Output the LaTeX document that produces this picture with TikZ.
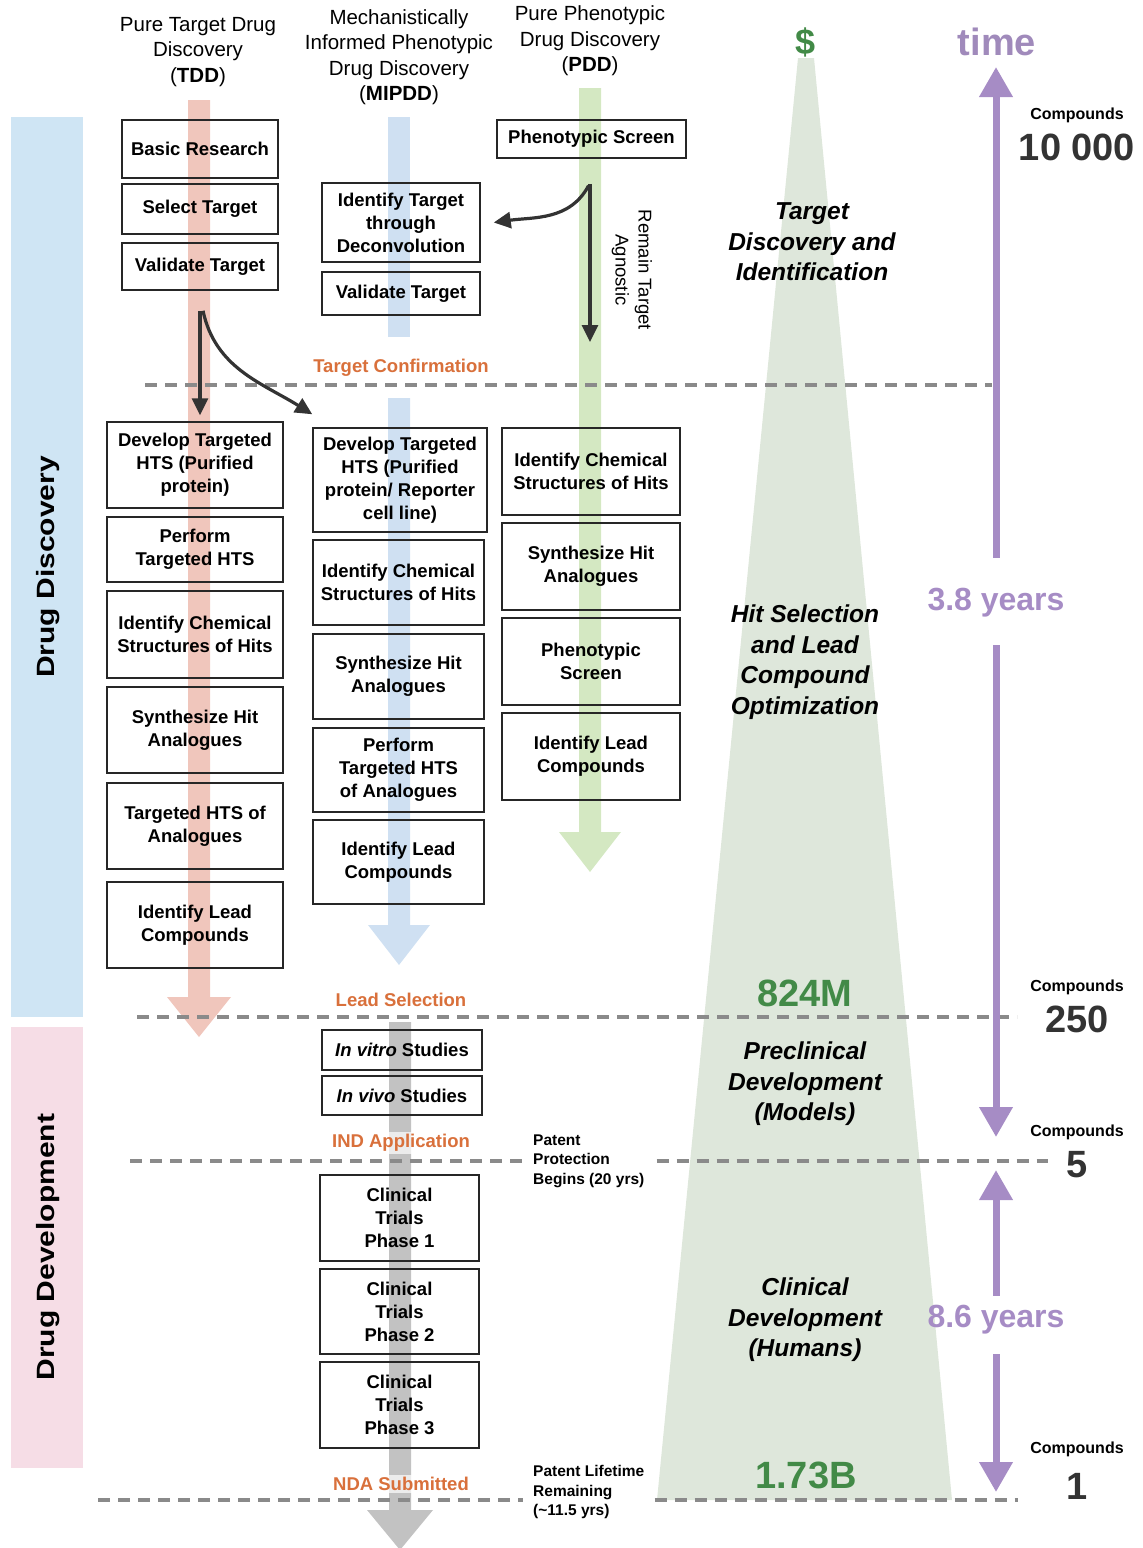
\documentclass[tikz,border=0pt]{standalone}
\usepackage{fontspec}
\setmainfont{Liberation Sans}
\usetikzlibrary{arrows.meta}

\definecolor{tddred}{HTML}{F0C6BC}
\definecolor{mipblue}{HTML}{CFE0F2}
\definecolor{pddgreen}{HTML}{D4E8C2}
\definecolor{devgray}{HTML}{C2C2C2}
\definecolor{barblue}{HTML}{CFE5F4}
\definecolor{barpink}{HTML}{F6DDE6}
\definecolor{conegreen}{HTML}{DEE7DB}
\definecolor{moneygreen}{HTML}{428A47}
\definecolor{timepurple}{HTML}{A68CC5}
\definecolor{stageorange}{HTML}{D9703B}
\definecolor{dashgray}{HTML}{8A8A8A}
\definecolor{inkdark}{HTML}{333333}

% colour, x, top, neck, half head width
\newcommand{\colshaft}[5]{\fill[#1] (#2-11,-#3) -- (#2+11,-#3) -- (#2+11,-#4) -- (#2+#5,-#4)
  -- (#2,-#4-40) -- (#2-#5,-#4) -- (#2-11,-#4) -- cycle;}

\begin{document}
\begin{tikzpicture}[x=1pt,y=1pt,
  stepbox/.style={draw=black!85, line width=1.5pt, align=center, inner sep=1pt,
    font=\fontsize{18.5}{23}\selectfont\bfseries},
  tddup/.style={stepbox, minimum width=156pt},
  tddlow/.style={stepbox, minimum width=176pt, minimum height=86pt},
  mipup/.style={stepbox, minimum width=158pt},
  miplow/.style={stepbox, minimum width=171pt, minimum height=85pt},
  mipdev/.style={stepbox, minimum width=160pt},
  pddlow/.style={stepbox, minimum width=178pt, minimum height=87pt},
  header/.style={align=center, font=\fontsize{20.5}{25.5}\selectfont},
  stagelabel/.style={text=stageorange, fill=white, fill opacity=.7, text opacity=1,
    inner sep=2pt, font=\fontsize{18.5}{22}\selectfont\bfseries},
  stageline/.style={draw=dashgray, line width=4.5pt, dash pattern=on 12pt off 8pt},
  patent/.style={align=left, anchor=west, inner sep=2pt, font=\fontsize{15.5}{19.5}\selectfont\bfseries},
  phase/.style={align=center, font=\fontsize{24.5}{30.5}\selectfont\bfseries\itshape},
  money/.style={text=moneygreen, font=\fontsize{38}{40}\selectfont\bfseries},
  years/.style={text=timepurple, font=\fontsize{32}{34}\selectfont\bfseries},
  cmpd/.style={text=black, font=\fontsize{16}{18}\selectfont\bfseries},
  cnum/.style={text=inkdark, font=\fontsize{38}{40}\selectfont\bfseries},
  sidebar/.style={rotate=90, font=\fontsize{25}{28}\selectfont\bfseries},
  flow/.style={draw=inkdark, line width=3.2pt, -{Triangle[length=17pt,width=16pt]}},
  timearrow/.style={draw=timepurple, line width=7pt, -{Triangle[length=30pt,width=32pt]}}]

\useasboundingbox (0,0) rectangle (1143,-1548);

% side bars
\fill[barblue] (11,-117) rectangle (83,-1017);
\fill[barpink] (11,-1027) rectangle (83,-1468);
\node[sidebar] (dd) at (48,-567) {\scalebox{1.2}[1]{Drug Discovery}};
\node[sidebar] (ddev) at (48,-1247) {\scalebox{1.2}[1]{Drug Development}};

% cost cone
\fill[conegreen] (798,-58) -- (814,-58) -- (952,-1500) -- (657,-1500) -- cycle;

% column shafts
\colshaft{tddred}{199}{100}{997}{32}
\fill[mipblue] (388,-117) rectangle (410,-337);
\colshaft{mipblue}{399}{398}{925}{31}
\colshaft{pddgreen}{590}{88}{832}{31}
\colshaft{devgray}{400}{1022}{1510}{33}

% stage boundaries
\foreach \y/\xa/\xb in {385/145/992, 1017/137/1017}
  {\draw[stageline] (\xa,-\y) -- (\xb,-\y);}
\node[patent] (pat1) at (531,-1161) {Patent\\Protection\\Begins (20 yrs)};
\node[patent] (pat2) at (531,-1492) {Patent Lifetime\\Remaining\\(\char`\~11.5 yrs)};
\draw[stageline, shorten >=8pt] (130,-1161) -- (pat1.west);
\draw[stageline, shorten <=10pt] (pat1.east) -- (1048,-1161);
\draw[stageline, shorten >=8pt] (98,-1500) -- (pat2.west |- 0,-1500);
\draw[stageline, shorten <=8pt] (pat2.east |- 0,-1500) -- (1018,-1500);

\node[stagelabel] (tc) at (401,-368) {Target Confirmation};
\node[stagelabel] (ls) at (401,-1000) {Lead Selection};
\node[stagelabel] (ind) at (401,-1143) {IND Application};
\node[stagelabel] (nda) at (401,-1484) {NDA Submitted};

% headers
\node[header] (hTDD) at (198,-52) {Pure Target Drug\\Discovery\\(\textbf{TDD})};
\node[header] (hMIP) at (399,-57) {Mechanistically\\Informed Phenotypic\\Drug Discovery\\(\textbf{MIPDD})};
\node[header] (hPDD) at (590,-41) {Pure Phenotypic\\Drug Discovery\\(\textbf{PDD})};

% TDD column
\node[tddup, minimum height=58pt] (br) at (200,-149) {Basic Research};
\node[tddup, minimum height=50pt] (st) at (200,-209) {Select Target};
\node[tddup, minimum height=47pt] (vt) at (200,-266.5) {Validate Target};
\node[tddlow] (dh) at (195,-465) {Develop Targeted\\HTS (Purified\\protein)};
\node[tddlow, minimum height=65pt] (ph) at (195,-549.5) {Perform\\Targeted HTS};
\node[tddlow, minimum height=87pt] (ic) at (195,-634.5) {Identify Chemical\\Structures of Hits};
\node[tddlow] (sh) at (195,-730) {Synthesize Hit\\Analogues};
\node[tddlow] (ta) at (195,-826) {Targeted HTS of\\Analogues};
\node[tddlow] (il) at (195,-925) {Identify Lead\\Compounds};

% MIPDD column
\node[mipup, minimum height=79pt] (itd) at (401,-222.5) {Identify Target\\through\\Deconvolution};
\node[mipup, minimum height=43pt] (mvt) at (401,-293.5) {Validate Target};
\node[miplow, minimum width=174pt, minimum height=104pt] (mdh) at (400,-480) {Develop Targeted\\HTS (Purified\\protein/ Reporter\\cell line)};
\node[miplow] (mic) at (398.5,-582.5) {Identify Chemical\\Structures of Hits};
\node[miplow] (msh) at (398.5,-676.5) {Synthesize Hit\\Analogues};
\node[miplow, minimum height=84pt] (mph) at (398.5,-770) {Perform\\Targeted HTS\\of Analogues};
\node[miplow, minimum height=84pt] (mil) at (398.5,-862) {Identify Lead\\Compounds};
\node[mipdev, minimum height=40pt] (ivt) at (402,-1050) {\textit{In vitro} Studies};
\node[mipdev, minimum height=39pt] (ivv) at (402,-1095.5) {\textit{In vivo} Studies};
\node[mipdev, minimum width=159pt, minimum height=86pt] (ct1) at (399.5,-1218) {Clinical\\Trials\\Phase 1};
\node[mipdev, minimum width=159pt, minimum height=85pt] (ct2) at (399.5,-1311.5) {Clinical\\Trials\\Phase 2};
\node[mipdev, minimum width=159pt, minimum height=86pt] (ct3) at (399.5,-1405) {Clinical\\Trials\\Phase 3};

% PDD column
\node[stepbox, minimum width=189pt, minimum height=38pt] (ps) at (591.5,-139) {Phenotypic Screen};
\node[pddlow] (pic) at (591,-471.5) {Identify Chemical\\Structures of Hits};
\node[pddlow] (psh) at (591,-566.5) {Synthesize Hit\\Analogues};
\node[pddlow] (pps) at (591,-661.5) {Phenotypic\\Screen};
\node[pddlow] (pil) at (591,-756.5) {Identify Lead\\Compounds};

% hand-over arrows
\coordinate (agn) at (590,-342);
\draw[flow, shorten >=6pt] ([yshift=-20pt]vt.south) -- (vt.south |- dh.north);
\draw[flow] ([xshift=3pt,yshift=-20pt]vt.south) to[out=-78,in=148] ([yshift=13pt]mdh.north west);
\draw[flow] ([xshift=-1.5pt,yshift=-25pt]ps.south) -- (agn);
\draw[flow] ([xshift=-3pt,yshift=-27pt]ps.south) to[out=-118,in=8] ([xshift=13pt]itd.east);
\node[rotate=-90, align=center, font=\fontsize{18.5}{23}\selectfont] (agtxt) at (632,-270) {Remain Target\\Agnostic};

% cost and phases
\node[money, font=\fontsize{36}{38}\selectfont\bfseries] (dollar) at (806,-42) {\$};
\node[money] (m824) at (805,-993) {824M};
\node[money] (b173) at (806,-1475) {1.73B};
\node[phase] (p1) at (812,-242) {Target\\Discovery and\\Identification};
\node[phase] (p2) at (805,-662) {Hit Selection\\and Lead\\Compound\\Optimization};
\node[phase] (p3) at (805,-1084) {Preclinical\\Development\\(Models)};
\node[phase] (p4) at (805,-1320) {Clinical\\Development\\(Humans)};

% time axis
\node[years, text=timepurple!85!gray, font=\fontsize{38}{40}\selectfont\bfseries] (time) at (997,-42) {time};
\node[years] (y38) at (996,-603) {3.8 years};
\node[years] (y86) at (996,-1320) {8.6 years};
\coordinate (t0) at (996,-67);
\coordinate (t1) at (996,-1137);
\coordinate (t2) at (996,-1170);
\coordinate (t3) at (996,-1492);
\draw[timearrow] ([yshift=27pt]y38.north) -- (t0);
\draw[timearrow] ([yshift=-24pt]y38.south) -- (t1);
\draw[timearrow] ([yshift=6pt]y86.north) -- (t2);
\draw[timearrow] ([yshift=-16pt]y86.south) -- (t3);

% compound counts
\foreach \yc/\yn/\num [count=\i] in {115/147/10 000, 987/1019/250, 1132/1165/5, 1449/1486/1}
  {\node[cmpd] (c\i) at (1077,-\yc) {Compounds};
   \node[cnum] (n\i) at (1077,-\yn) {\num};}

\end{tikzpicture}
\end{document}
